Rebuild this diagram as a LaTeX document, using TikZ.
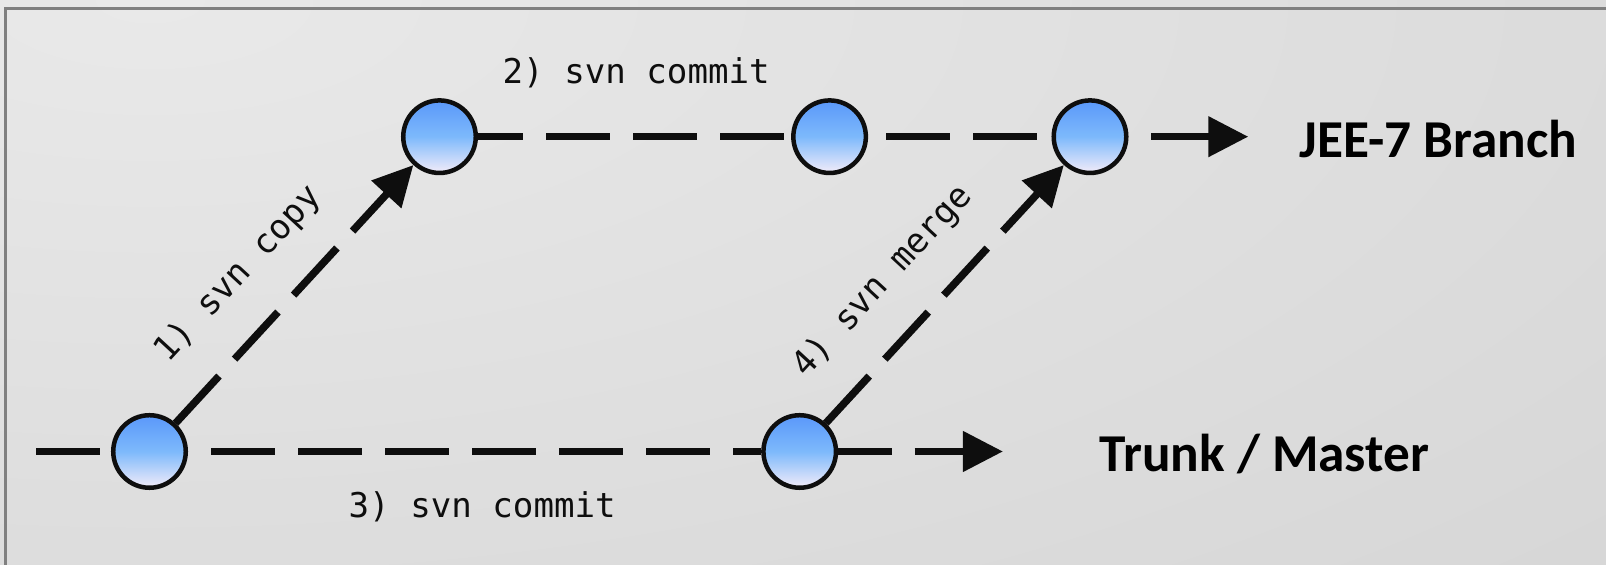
\documentclass[tikz,border=0pt]{standalone}
\usepackage{fontspec}
\setmainfont{Carlito}
\newfontfamily\codefont{DejaVu Sans Mono}
\usetikzlibrary{arrows.meta}
\definecolor{bgLight}{HTML}{E9E9E9}
\definecolor{bgDark}{HTML}{D1D1D1}
\definecolor{frameGray}{HTML}{808080}
\definecolor{ink}{HTML}{0E0E0E}
\definecolor{nodeTop}{HTML}{5A98FA}
\definecolor{nodeMid}{HTML}{7DB9FB}
\definecolor{nodeBot}{HTML}{F3ECF9}
\begin{document}
\begin{tikzpicture}[x=0.01cm, y=-0.01cm,
  commit/.style={circle, draw=ink, line width=0.045cm, minimum size=0.725cm, inner sep=0pt,
    top color=nodeTop, bottom color=nodeBot, middle color=nodeMid},
  flow/.style={draw=ink, line width=0.075cm},
  dashflow/.style={flow, dash pattern=on 0.64cm off 0.23cm},
  tip/.style={-{Triangle[length=0.4cm, width=0.39cm]}},
  cmd/.style={font=\codefont\fontsize{9.7}{11}\selectfont, inner sep=0pt, text=ink},
  branchlabel/.style={font=\bfseries\fontsize{15.15}{18}\selectfont, inner sep=0pt, text=black}
]
\useasboundingbox (0,0) rectangle (1606,565);

% background with a soft light corner at the top left
\fill[bgDark] (0,0) rectangle (1606,565);
\begin{scope}
  \clip (0,0) rectangle (1606,565);
  \shade[inner color=bgLight, outer color=bgDark] (150,0) ellipse [x radius=2600, y radius=1100];
\end{scope}

% frame edge
\draw[frameGray, line width=0.03cm] (1610,8.7) -- (5.3,8.7) -- (5.3,570);

% commits
\node[commit] (a) at (149.5,451.5) {};
\node[commit] (b) at (439.5,136.7) {};
\node[commit] (c) at (829.6,136.7) {};
\node[commit] (d) at (1090,136.7) {};
\node[commit] (e) at (799.7,451.5) {};

\coordinate (trunkStart) at (36,451.5);
\coordinate (trunkTip) at (1003,451.5);
\coordinate (branchFrom) at (1151,136.7);
\coordinate (branchTip) at (1248.3,136.7);

% trunk line
\draw[dashflow] (trunkStart) -- (a);
\draw[dashflow, dash phase=0.64cm] (a) -- (e);
\draw[dashflow, dash phase=0.106cm, tip] (e) -- (trunkTip);

% branch line
\draw[dashflow, dash phase=0.19cm] (b) -- (c);
\draw[dashflow, dash phase=0.69cm] (c) -- (d);
\draw[flow, tip] (branchFrom) -- (branchTip);

% copy and merge
\draw[dashflow, tip] (a) -- (b);
\draw[dashflow, tip] (e) -- (d);

% command labels
\node[cmd, anchor=base west] (l2) at (502,84) {2) svn commit};
\node[cmd, anchor=base west] (l3) at (348,518) {3) svn commit};
\node[cmd, rotate=47.3] (l1) at (238.6,274.5) {1) svn copy};
\node[cmd, rotate=47.3] (l4) at (883,281.6) {4) svn merge};

% branch names
\node[branchlabel, anchor=base west] (jee) at (1299,157.5) {JEE-7 Branch};
\node[branchlabel, anchor=base west] (trunk) at (1099,471.5) {Trunk / Master};
\end{tikzpicture}
\end{document}
